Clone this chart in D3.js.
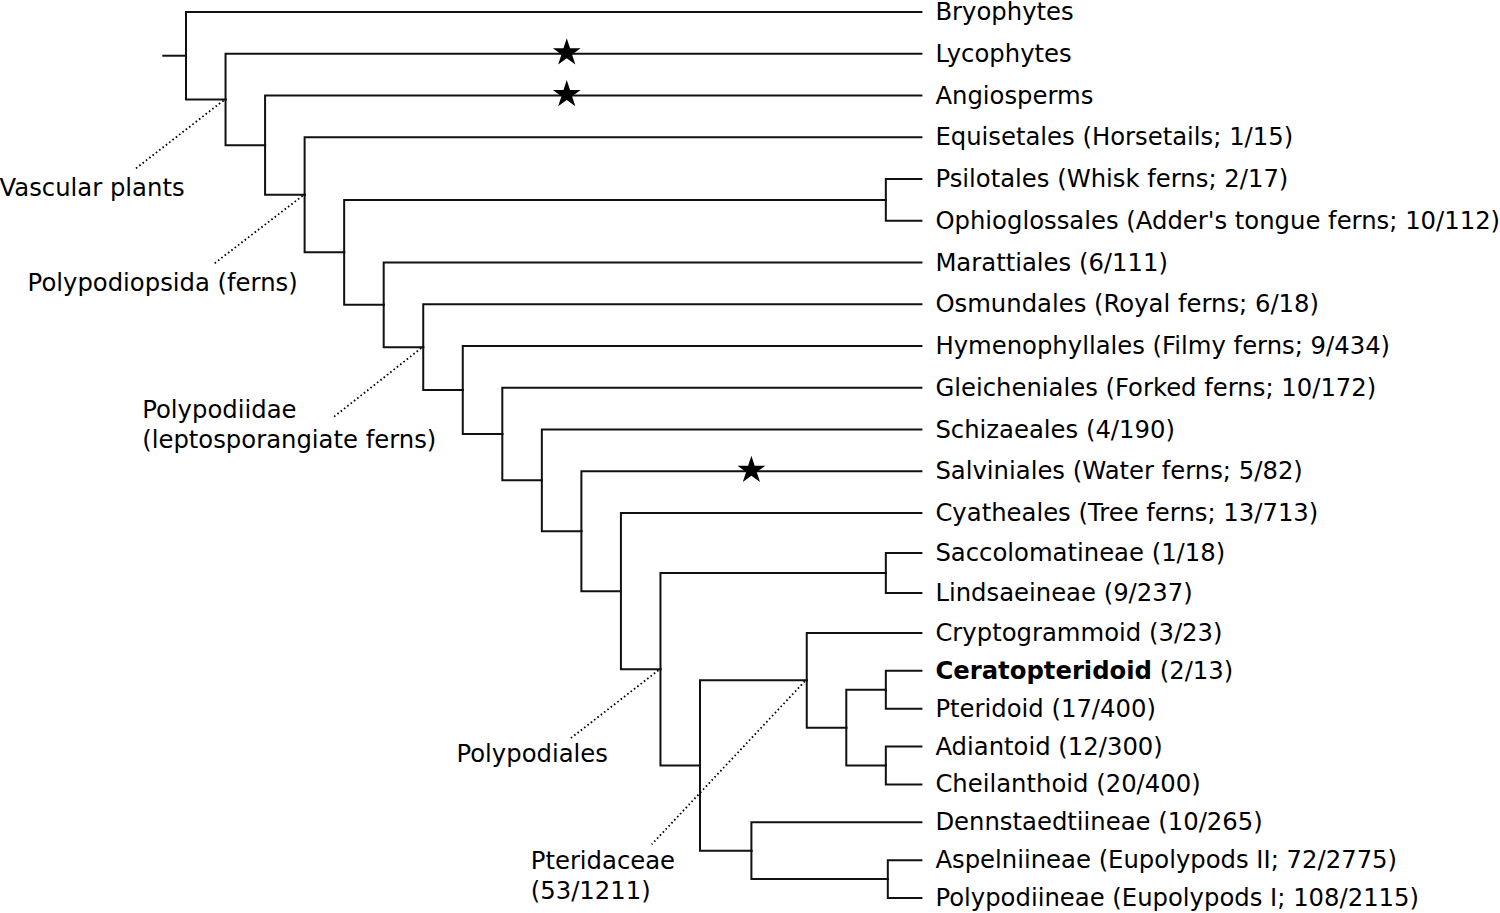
<!DOCTYPE html>
<html>
<head>
<meta charset="utf-8">
<script src="https://cdn.jsdelivr.net/npm/d3@7"></script>
<style>
  html, body { margin: 0; padding: 0; background: #fff; }
  svg { display: block; }
  text { font-family: "DejaVu Sans", sans-serif; font-size: 24.3px; fill: #000; }
</style>
</head>
<body>
<script>
// Leaf taxa (top to bottom) and the bracketed notes after them
var taxa = ["Bryophytes", "Lycophytes", "Angiosperms", "Equisetales", "Psilotales",
    "Ophioglossales", "Marattiales", "Osmundales", "Hymenophyllales", "Gleicheniales",
    "Schizaeales", "Salviniales", "Cyatheales", "Saccolomatineae", "Lindsaeineae",
    "Cryptogrammoid", "Ceratopteridoid", "Pteridoid", "Adiantoid", "Cheilanthoid",
    "Dennstaedtiineae", "Aspelniineae", "Polypodiineae"];
var notes = ["", "", "", "(Horsetails; 1/15)", "(Whisk ferns; 2/17)",
    "(Adder's tongue ferns; 10/112)", "(6/111)", "(Royal ferns; 6/18)", "(Filmy ferns; 9/434)",
    "(Forked ferns; 10/172)", "(4/190)", "(Water ferns; 5/82)", "(Tree ferns; 13/713)",
    "(1/18)", "(9/237)", "(3/23)", "(2/13)", "(17/400)", "(12/300)", "(20/400)",
    "(10/265)", "(Eupolypods II; 72/2775)", "(Eupolypods I; 108/2115)"];
var leafParent = ["root", "n2", "n3", "n4", "psil", "psil", "n6", "n7", "n8", "n9",
    "n10", "n11", "n12", "sacc", "sacc", "pter", "cera", "cera", "adia", "adia",
    "eupo", "aspl", "aspl"];
var highlight = "Ceratopteridoid";

// Internal clades: id, parent, node depth (branch units)
var cladeIds    = ["root", "n2", "n3", "n4", "n5", "psil", "n6", "n7", "n8", "n9", "n10",
    "n11", "n12", "n13", "sacc", "n14", "pter", "cp", "cera", "adia", "eupo", "aspl"];
var cladeParent = ["", "root", "n2", "n3", "n4", "n5", "n5", "n6", "n7", "n8", "n9",
    "n10", "n11", "n12", "n13", "n13", "n14", "pter", "cp", "cp", "n14", "eupo"];
var cladeDepth  = [0, 1, 2, 3, 4, 17.7, 5, 6, 7, 8, 9,
    10, 11, 12, 17.7, 13, 15.7, 16.7, 17.7, 17.7, 14.3, 17.75];
var tipDepth = 18.6;
var rootStub = -0.6;

// Stars on branches (position in branch units)
var stars = [
    {taxon: "Lycophytes", at: 9.63},
    {taxon: "Angiosperms", at: 9.63},
    {taxon: "Salviniales", at: 14.3}
];

// Named clades with dotted callouts
var callouts = [
    {clade: "n2", lines: ["Vascular plants"]},
    {clade: "n4", lines: ["Polypodiopsida (ferns)"]},
    {clade: "n7", lines: ["Polypodiidae", "(leptosporangiate ferns)"]},
    {clade: "n13", lines: ["Polypodiales"]},
    {clade: "pter", lines: ["Pteridaceae", "(53/1211)"]}
];

var width = 1500, height = 913;

var svg = d3.select("body").append("svg")
    .attr("width", width)
    .attr("height", height);

svg.append("rect").attr("width", width).attr("height", height).attr("fill", "#fff");

// build the table for stratify
var table = cladeIds.map(function (id, i) {
    return {id: id, parent: cladeParent[i] || null, depth: cladeDepth[i], leaf: -1};
});
taxa.forEach(function (t, i) {
    table.push({id: t, parent: leafParent[i], depth: tipDepth, leaf: i});
});

var root = d3.stratify()
    .id(function (d) { return d.id; })
    .parentId(function (d) { return d.parent; })(table);

// Scales
var x = d3.scaleLinear().domain([0, 13]).range([186, 700]);
var y = d3.scaleLinear().domain([0, 12, 15, 22]).range([12, 513, 633, 898]);

// y of leaves from their order, internal nodes at the middle of their children
root.eachAfter(function (n) {
    n.px = x(n.data.depth);
    if (n.data.leaf >= 0) {
        n.py = y(n.data.leaf);
    } else {
        var ys = n.children.map(function (c) { return c.py; });
        n.py = (d3.min(ys) + d3.max(ys)) / 2;
    }
});

var byId = {};
root.each(function (n) { byId[n.id] = n; });

var lineColor = "#111";

// root stub
svg.append("path")
    .attr("d", "M" + x(rootStub) + "," + root.py + "H" + root.px)
    .attr("fill", "none")
    .attr("stroke", lineColor)
    .attr("stroke-width", 2);

// elbow branches
svg.append("g").selectAll("path")
    .data(root.links())
    .enter()
    .append("path")
    .attr("d", function (l) {
        return "M" + l.source.px + "," + l.source.py +
            "V" + l.target.py + "H" + l.target.px;
    })
    .attr("fill", "none")
    .attr("stroke", lineColor)
    .attr("stroke-width", 2)
    .attr("stroke-linecap", "square");

// stars
svg.append("g").selectAll("path")
    .data(stars)
    .enter()
    .append("path")
    .attr("d", d3.symbol().type(d3.symbolStar).size(240))
    .attr("transform", function (d) {
        return "translate(" + x(d.at) + "," + (byId[d.taxon].py - 1) + ")";
    })
    .attr("fill", "#000");

// leaf labels
var labels = svg.append("g").selectAll("text")
    .data(root.leaves())
    .enter()
    .append("text")
    .attr("x", function (d) { return d.px + 14; })
    .attr("y", function (d) { return d.py; })
    .attr("dy", "0.33em");

labels.append("tspan")
    .style("font-weight", function (d) { return d.id === highlight ? "bold" : "normal"; })
    .text(function (d) { return d.id; });
labels.append("tspan")
    .text(function (d) {
        var note = notes[d.data.leaf];
        return note ? " " + note : "";
    });

// callout layout: leader end and text start, relative to the clade node
var calloutLayout = {
    n2:   {lx: -91,  ly: 70,  tx: -226, ty: 97},
    n4:   {lx: -92,  ly: 70,  tx: -277, ty: 96},
    n7:   {lx: -91,  ly: 71,  tx: -281, ty: 71},
    n13:  {lx: -91,  ly: 70,  tx: -204, ty: 93},
    pter: {lx: -155, ly: 164, tx: -276, ty: 189}
};

var co = svg.append("g").selectAll("g")
    .data(callouts)
    .enter()
    .append("g");

co.append("line")
    .attr("x1", function (d) { return byId[d.clade].px - 2; })
    .attr("y1", function (d) { return byId[d.clade].py + 1; })
    .attr("x2", function (d) { return byId[d.clade].px + calloutLayout[d.clade].lx; })
    .attr("y2", function (d) { return byId[d.clade].py + calloutLayout[d.clade].ly; })
    .attr("stroke", "#000")
    .attr("stroke-width", 1.8)
    .attr("stroke-dasharray", "1.6,2.6");

co.each(function (d) {
    var n = byId[d.clade], L = calloutLayout[d.clade];
    d3.select(this).selectAll("text")
        .data(d.lines)
        .enter()
        .append("text")
        .attr("x", n.px + L.tx)
        .attr("y", function (t, i) { return n.py + L.ty + i * 30; })
        .text(function (t) { return t; });
});
</script>
</body>
</html>
